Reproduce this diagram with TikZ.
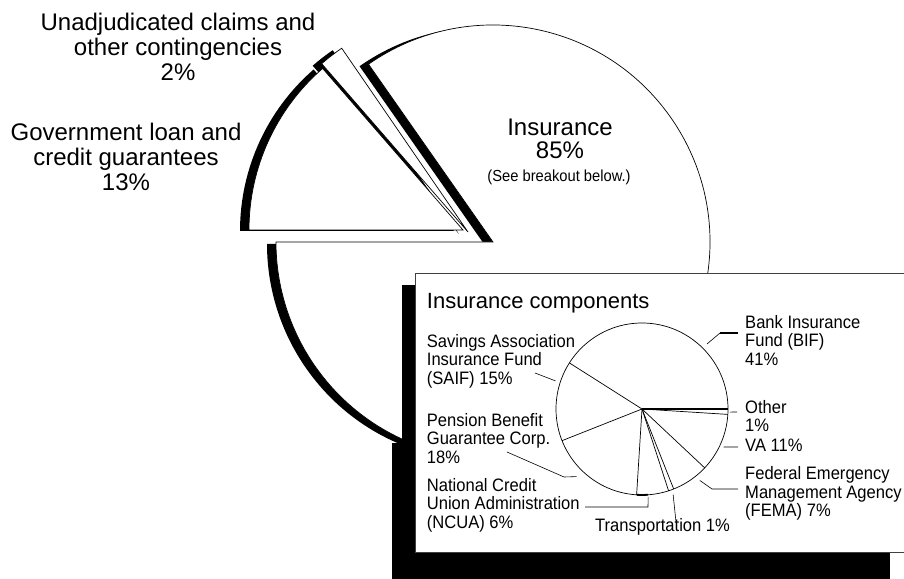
\documentclass[tikz,border=0pt]{standalone}
\usepackage{fontspec}
\setmainfont{Liberation Sans}
\newfontfamily\narrowsans{Liberation Sans}[FakeStretch=0.92]
\usepackage{tikz}
\usetikzlibrary{calc}

\begin{document}
\begin{tikzpicture}[x=1pt, y=1pt,
    wedge/.style={fill=white, draw=black, line width=0.7pt},
    shade/.style={fill=black},
    biglbl/.style={font=\fontsize{24}{25}\selectfont, align=center, inner sep=0pt},
    lbl/.style={font=\narrowsans\fontsize{18}{18.4}\selectfont, align=left, inner sep=0pt},
    lead/.style={draw=black, line width=0.6pt}
  ]
  \useasboundingbox (0,0) rectangle (904,578);
  \clip (0,0) rectangle (904,578);

  %--- Big pie, exploded wedges ---
  \coordinate (ins) at (493,336);
  \coordinate (unadj) at (468,346);
  \coordinate (gov) at (463,348);
  % insurance 85%
  \fill[shade] ($(ins)+(-9,-2)$) -- ++(125:217pt)
        arc[start angle=125, end angle=-180, radius=217pt] -- cycle;
  \draw[wedge] (ins) -- ++(125:217pt)
        arc[start angle=125, end angle=-180, radius=217pt] -- cycle;
  % unadjudicated 2%
  \fill[shade] ($(unadj)+(-9,-2)$) -- ++(124.5:223pt)
        arc[start angle=124.5, end angle=131, radius=223pt] -- cycle;
  \draw[wedge] (unadj) -- ++(124.5:223pt)
        arc[start angle=124.5, end angle=131, radius=223pt] -- cycle;
  % loan guarantees 13%
  \fill[shade] ($(gov)+(-9,-1)$) -- ++(131:214pt)
        arc[start angle=131, end angle=180, radius=214pt] -- cycle;
  \draw[wedge] (gov) -- ++(131:214pt)
        arc[start angle=131, end angle=180, radius=214pt] -- cycle;

  \node[biglbl, anchor=north] (unadjl) at (178,565.5)
        {Unadjudicated claims and\\other contingencies\\2\%};
  \node[biglbl, anchor=north] (govl) at (126,455.5)
        {Government loan and\\credit guarantees\\13\%};
  \node[biglbl, font=\fontsize{24}{23}\selectfont, anchor=north] (insl) at (560,458.8)
        {Insurance\\85\%};
  \node[inner sep=0pt, font=\narrowsans\fontsize{16}{16}\selectfont, anchor=base] (insn)
        at (559,396.3) {(See breakout below.)};

  %--- Breakout box ---
  \fill[shade] (402,293) rectangle (890,-5);
  \fill[shade] (392,135) rectangle (402,-5);
  \draw[fill=white, draw=black!75, line width=0.8pt] (415,305) rectangle (915,26);
  \node[inner sep=0pt, font=\fontsize{22}{24}\selectfont, anchor=base west] (title)
        at (426.7,269.7) {Insurance components};

  % small pie
  \coordinate (ic) at (642,169);
  \draw[line width=0.7pt] (ic) circle[radius=86pt];
  \foreach \ang in {147.6, 201.6, 266.4, 288, 291.6, 316.8, 356.4} {
    \draw[line width=0.7pt] (ic) -- ++(\ang:86pt);
  }
  \draw[line width=1.8pt] (ic) -- ++(0:86pt);
  \draw[line width=1.8pt] (ic) ++(266.4:86pt) arc[start angle=266.4, end angle=274, radius=86pt];

  % labels
  \node[lbl, anchor=north west] (bif) at (745,263) {Bank Insurance\\Fund (BIF)\\41\%};
  \node[lbl, anchor=north west] (other) at (745,178) {Other\\1\%};
  \node[lbl, anchor=base west] (va) at (745,126.3) {VA 11\%};
  \node[lbl, anchor=north west] (fema) at (745,111.4)
        {Federal Emergency\\Management Agency\\(FEMA) 7\%};
  \node[lbl, anchor=base west] (trans) at (595,46.3) {Transportation 1\%};
  \node[lbl, anchor=north west] (ncua) at (426.7,99.7)
        {National Credit\\Union Administration\\(NCUA) 6\%};
  \node[lbl, anchor=north west] (pbgc) at (426.7,164.7)
        {Pension Benefit\\Guarantee Corp.\\18\%};
  \node[lbl, anchor=north west] (saif) at (426.7,243.7)
        {Savings Association\\Insurance Fund\\(SAIF) 15\%};

  % leader lines
  \path (ic) ++(45:92pt) coordinate (bifp);
  \coordinate (bifk) at (720,245);
  \coordinate (bife) at (738,245);
  \draw[lead] (bifp) -- (bifk);
  \draw[lead, line width=1.2pt] (bifk) -- (bife);
  \path (ic) ++(358:88pt) coordinate (otherp);
  \coordinate (othere) at (737,166);
  \draw[lead] (otherp) -- (othere);
  \path (ic) ++(335:90pt) coordinate (vap);
  \coordinate (vae) at (738,131);
  \draw[lead] (vap) -- (vae);
  \path (ic) ++(309:92pt) coordinate (femap);
  \coordinate (femak) at (712,89);
  \coordinate (femae) at (738,89);
  \draw[lead] (femap) -- (femak) -- (femae);
  \path (ic) ++(290:91pt) coordinate (transp);
  \coordinate (transe) at (676,56);
  \draw[lead] (transp) -- (transe);
  \path (ic) ++(274:88pt) coordinate (ncuap);
  \coordinate (ncuak) at (648,71);
  \coordinate (ncuae) at (585,71);
  \draw[lead] (ncuap) -- (ncuak) -- (ncuae);
  \path (ic) ++(226:94pt) coordinate (pbgp);
  \coordinate (pbgk) at (564,101);
  \coordinate (pbge) at (507,126);
  \draw[lead] (pbgp) -- (pbgk) -- (pbge);
  \path (ic) ++(162:91pt) coordinate (saifp);
  \coordinate (saife) at (535,205);
  \draw[lead] (saifp) -- (saife);
\end{tikzpicture}
\end{document}
